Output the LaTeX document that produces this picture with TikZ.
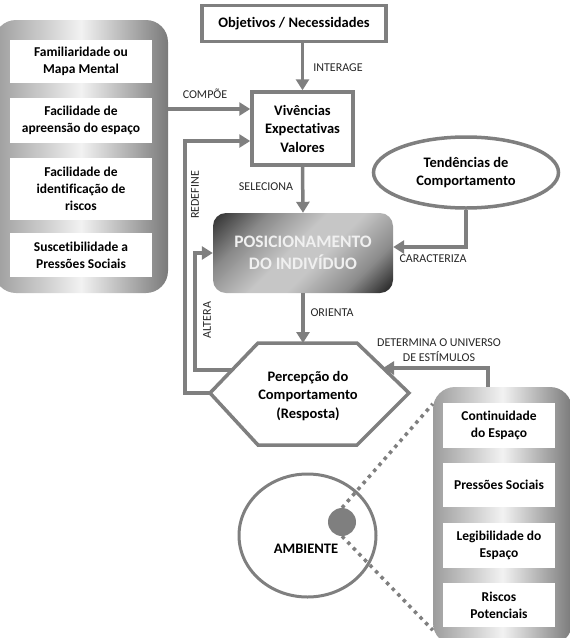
\documentclass[tikz,border=0pt]{standalone}
\usepackage{fontspec}
\setmainfont{Carlito}[Ligatures=NoCommon]
\usetikzlibrary{calc,arrows.meta,shapes.geometric}
\definecolor{linha}{HTML}{7F7F7F}
\definecolor{rotulo}{HTML}{262626}
\definecolor{claro}{HTML}{F2F2F2}
\definecolor{cinzaA}{HTML}{9C9C9C}
\definecolor{cinzaB}{HTML}{7A7A7A}
\definecolor{escuro}{HTML}{2A2A2A}
\definecolor{escuroB}{HTML}{161616}
\definecolor{medio}{HTML}{8A8A8A}
\definecolor{meio}{HTML}{C6C6C6}
\pgfdeclarehorizontalshading{fundopos}{100bp}{color(0bp)=(escuro); color(14bp)=(escuro);
  color(30bp)=(medio); color(46bp)=(meio); color(56bp)=(meio); color(72bp)=(medio);
  color(86bp)=(escuroB); color(100bp)=(escuroB)}
\tikzset{
  seta/.style={draw=linha, line width=3.5pt, -{Triangle[length=11pt,width=13pt]}},
  borda/.style={draw=linha, line width=3.5pt},
  caixa/.style={fill=white, align=center, inner sep=0pt, font=\bfseries\fontsize{13.5}{17}\selectfont},
  central/.style={align=center, inner sep=0pt, font=\bfseries\fontsize{14.5}{18.5}\selectfont},
  grupo/.style={rounded corners=22pt, left color=cinzaA, right color=cinzaB, middle color=claro},
  posic/.style={rounded corners=13pt, shading=fundopos, shading angle=-45,
    text=white!94!black, align=center, font=\bfseries\fontsize{17.5}{22}\selectfont},
  rot/.style={text=rotulo, inner sep=0pt, align=center, font=\fontsize{12}{15}\selectfont},
  pontos/.style={draw=linha, line width=3.5pt, dash pattern=on 3.5pt off 4.5pt},
}

\begin{document}
\begin{tikzpicture}[x=1pt,y=-1pt]
  \useasboundingbox (0,0) rectangle (570,638);

  % grupo da esquerda
  \node[grupo, minimum width=174pt, minimum height=273pt] (grupoA) at (81,156.5) {};
  \node[caixa, minimum width=142pt, minimum height=43pt] (fam) at (81,61.5) {Familiaridade ou\\Mapa Mental};
  \node[caixa, minimum width=142pt, minimum height=45pt] (apr) at (81,120.5) {Facilidade de\\apreensão do espaço};
  \node[caixa, minimum width=142pt, minimum height=62pt] (ris) at (81,189) {Facilidade de\\identificação de\\riscos};
  \node[caixa, minimum width=142pt, minimum height=44pt] (sus) at (81,255) {Suscetibilidade a\\Pressões Sociais};

  % coluna central
  \node[central, borda, minimum width=184pt, minimum height=36pt] (obj) at (294,23.5) {Objetivos / Necessidades};
  \node[central, borda, minimum width=101pt, minimum height=73pt] (viv) at (302.5,128.5) {Vivências\\Expectativas\\Valores};
  \node[posic, minimum width=180pt, minimum height=80pt] (pos) at (303,253) {POSICIONAMENTO\\DO INDIVÍDUO};
  \node[central, borda, ellipse, inner sep=0pt, minimum width=185pt, minimum height=71pt] (tend) at (466,172.5) {Tendências de\\Comportamento};

  % hexagono
  \coordinate (hxL) at (210,393);
  \coordinate (hxTL) at (258,343);
  \coordinate (hxTR) at (357,343);
  \coordinate (hxR) at (409,393);
  \coordinate (hxBR) at (357,445);
  \coordinate (hxBL) at (258,445);
  \draw[borda] (hxL) -- (hxTL) -- (hxTR) -- (hxR) -- (hxBR) -- (hxBL) -- cycle;
  \node[central] (perc) at (308,396) {Percepção do\\Comportamento\\(Resposta)};

  % ambiente
  \node[borda, ellipse, line width=3pt, minimum width=137pt, minimum height=123pt] (amb) at (307.5,535.5) {};
  \node[central] (ambtxt) at (306,549) {AMBIENTE};

  % grupo da direita
  \node[grupo, minimum width=139pt, minimum height=258pt] (grupoB) at (502.5,516) {};
  \node[caixa, minimum width=112pt, minimum height=45pt] (cont) at (499,425.5) {Continuidade\\do Espaço};
  \node[caixa, minimum width=112pt, minimum height=44pt] (pres) at (499,485) {Pressões Sociais};
  \node[caixa, minimum width=112pt, minimum height=45pt] (leg) at (499,545.5) {Legibilidade do\\Espaço};
  \node[caixa, minimum width=112pt, minimum height=44pt] (risc) at (499,605) {Riscos\\Potenciais};

  \node[circle, fill=linha, minimum size=28pt, inner sep=0pt] (ponto) at (342,522) {};
  \draw[pontos] (ponto.north) -- ([yshift=-17pt]grupoB.north west);
  \draw[pontos] (ponto.south) -- ([yshift=15pt]grupoB.south west);

  % setas
  \draw[seta] (obj.south -| viv.north) -- (viv.north);          % interage
  \draw[seta] (grupoA.east |- 0,109) -- (viv.west |- 0,109);     % compoe
  \draw[seta] (hxL) -| (185,141) -- (viv.west |- 0,141);         % redefine
  \draw[seta] (viv.south) -- (pos.north);                        % seleciona
  \draw[seta] (pos.south) -- (pos.south |- hxTL);                % orienta
  \coordinate (alt) at ($(hxL)!0.46!(hxTL)$);
  \draw[seta] (alt) -| ([xshift=-18pt]pos.west) -- (pos.west);   % altera
  \draw[seta] (tend.south) |- ([yshift=6pt]pos.east);            % caracteriza
  \coordinate (det) at ($(hxTR)!0.5!(hxR)$);
  \draw[seta] ([xshift=-14.5pt]grupoB.north) |- (det);           % determina

  % rotulos
  \node[rot] (lbInterage) at (338,68) {INTERAGE};
  \node[rot] (lbCompoe) at (205,94) {COMPÕE};
  \node[rot] (lbSeleciona) at (266,187) {SELECIONA};
  \node[rot, rotate=90] (lbRedefine) at (195,195) {REDEFINE};
  \node[rot] (lbOrienta) at (332,313) {ORIENTA};
  \node[rot, rotate=90] (lbAltera) at (207,320) {ALTERA};
  \node[rot] (lbCaracteriza) at (433,259) {CARACTERIZA};
  \node[rot] (lbDetermina) at (439,350.5) {DETERMINA O UNIVERSO\\DE ESTÍMULOS};
\end{tikzpicture}
\end{document}
